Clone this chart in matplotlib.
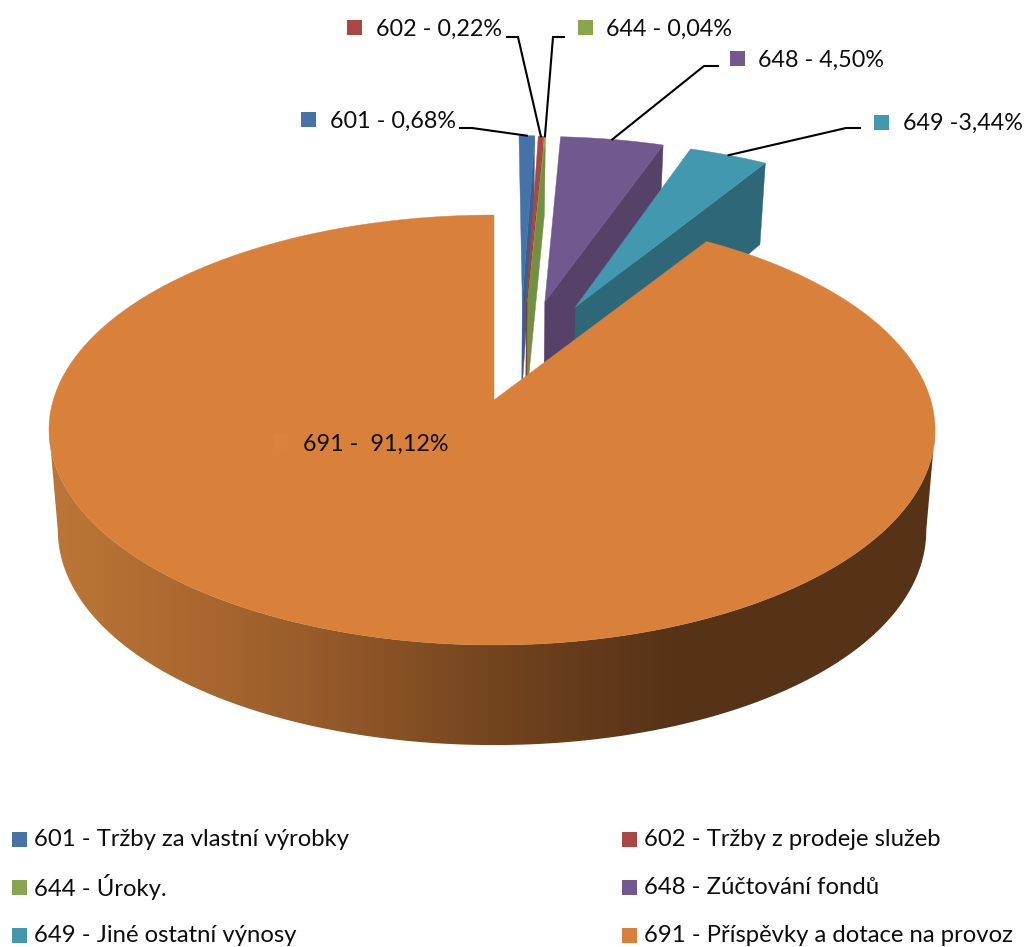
#!/usr/bin/env python3
# -*- coding: utf-8 -*-

import numpy as np
import matplotlib
matplotlib.use('Agg')
import matplotlib.pyplot as plt
from matplotlib.colors import LinearSegmentedColormap
from matplotlib.patches import Polygon, Rectangle

plt.rcParams['font.family'] = ['Lato', 'DejaVu Sans']

codes = ['601', '602', '644', '648', '649', '691']
shares = [0.68, 0.22, 0.04, 4.50, 3.44, 91.12]
data_labels = ['601 - 0,68%', '602 - 0,22%', '644 - 0,04%', '648 - 4,50%', '649 -3,44%', '691 -  91,12%']
legend_labels = ['601 - Tržby za vlastní výrobky', '602 - Tržby z prodeje služeb',
                 '644 - Úroky.', '648 - Zúčtování fondů',
                 '649 - Jiné ostatní výnosy', '691 - Příspěvky a dotace na provoz']

colors = ['#4572A7', '#AA4643', '#89A54E', '#71588F', '#4198AF', '#D9803B']
dark_colors = ['#38608F', '#8A3533', '#728F42', '#564169', '#2E6878', '#A05F2B']
# how far each slice is pulled out, in pie radii (x, y on the pie plane)
pull = [(0.069, 0.503), (0.079, 0.50), (0.082, 0.50), (0.124, 0.497), (0.198, 0.47), (0, 0)]
radius = [1.017, 1.017, 1.017, 1.017, 1.017, 1.0]

# where the pie sits in the picture, pixels
CX = 494
K = 0.1395
BOT_K = 0.11
TOP_Y, TOP_A, TOP_B = 400, 438.7, 210.8
BOT_Y, BOT_A, BOT_B = 499, 430, 219
# the big slice starts a bit later than the shares say, the perspective does that
BIG_START_SHIFT = 0.9


def project(u, v, bottom=False):
    # perspective of the pie plane, v points away from the viewer
    d = 1 + K * v
    if bottom:
        return CX + BOT_A * u / d - 2 * u ** 2, BOT_Y - BOT_B * v / (1 + BOT_K * v)
    return CX + TOP_A * u / d - 2 * u ** 2, TOP_Y - TOP_B * v / d


def rim(theta, i, bottom=False):
    off = pull[i]
    return project(off[0] + radius[i] * np.sin(theta), off[1] + radius[i] * np.cos(theta), bottom)


def slice_face(a0, a1, i):
    t = np.linspace(a0, a1, max(3, int(np.degrees(a1 - a0) * 2)))
    x, y = rim(t, i)
    ax_, ay_ = project(pull[i][0], pull[i][1])
    return np.column_stack([np.r_[ax_, x], np.r_[ay_, y]])


def cut_face(a, i):
    x0, y0 = project(pull[i][0], pull[i][1])
    x1, y1 = rim(a, i)
    x2, y2 = rim(a, i, True)
    x3, y3 = project(pull[i][0], pull[i][1], True)
    return [(x0, y0), (x1, y1), (x2, y2), (x3, y3)]


fig = plt.figure(figsize=(10.25, 9.47), dpi=100)
ax = fig.add_axes([0, 0, 1, 1])

angles = np.radians(np.r_[0, np.cumsum(shares)] * 3.6)

# small slices first, the big one covers them
for i in range(5):
    ax.add_patch(Polygon(cut_face(angles[i + 1], i), closed=True, fc=dark_colors[i], ec=dark_colors[i], lw=0.3))
    ax.add_patch(Polygon(slice_face(angles[i], angles[i + 1], i), closed=True, fc=colors[i], ec=colors[i], lw=0.3))

# outer wall of the big slice, between the widest points of the rim
t = np.radians(np.linspace(98, 262, 400))
tx, ty = rim(t, 5)
bx, by = rim(t, 5, True)
wall = Polygon(np.column_stack([np.r_[tx, bx[::-1]], np.r_[ty, by[::-1]]]), closed=True, fc='none', ec='none')
ax.add_patch(wall)
wall_cmap = LinearSegmentedColormap.from_list('wall', [(0, '#BC7637'), (0.2, '#A6652E'), (0.354, '#8F5528'),
                                                        (0.467, '#784920'), (0.61, '#643A1B'), (0.71, '#563317'),
                                                        (1, '#563317')])
im = ax.imshow(np.linspace(0, 1, 256).reshape(1, -1), cmap=wall_cmap, aspect='auto',
               extent=(49, 935, 760, 420), zorder=1.5)
im.set_clip_path(wall)

big_start = angles[5] + np.radians(BIG_START_SHIFT)
ax.add_patch(Polygon(slice_face(big_start, angles[6], 5), closed=True, fc=colors[5], ec=colors[5], lw=0.3, zorder=2))

# data labels: square x, square y, text x, text y, elbow x, elbow y, line start x
label_pos = [(301, 112, 330, 121, 472, 128, 460),
             (347, 20, 376, 29, 518, 37, 507),
             (578, 20, 606, 29, 553, 37, 564),
             (730, 51, 758, 60, 704, 66, 718),
             (874, 115, 903, 123, 846, 128, 860)]
for i in range(5):
    sx, sy, tx_, ty_, ex, ey, lx = label_pos[i]
    ax.add_patch(Rectangle((sx, sy), 15, 15, fc=colors[i], ec='none', zorder=3))
    ax.text(tx_, ty_, data_labels[i], fontsize=16.8, color='#0d0d0d', va='center', ha='left', zorder=4)
    px, py = rim((angles[i] + angles[i + 1]) / 2, i)
    ax.plot([lx, ex, px], [ey, ey, py], color='black', lw=1.5, zorder=3, solid_joinstyle='miter')

ax.add_patch(Rectangle((274, 434), 14, 15, fc='#DA8340', ec='none', zorder=3))
ax.text(303, 444, data_labels[5], fontsize=16.8, color='#0d0d0d', va='center', ha='left', zorder=4)

# legend, two columns
legend_x = [12, 622]
legend_y = [839, 887, 935]
for i, txt in enumerate(legend_labels):
    lx = legend_x[i % 2]
    ly = legend_y[i // 2]
    ax.add_patch(Rectangle((lx, ly - 7), 15, 15, fc=colors[i], ec='none'))
    ax.text(lx + 22, ly, txt, fontsize=17.2, color='#0d0d0d', va='center', ha='left')

ax.set_xlim(0, 1025)
ax.set_ylim(947, 0)
ax.axis('off')

fig.savefig('out.png', dpi=100, facecolor='white')
